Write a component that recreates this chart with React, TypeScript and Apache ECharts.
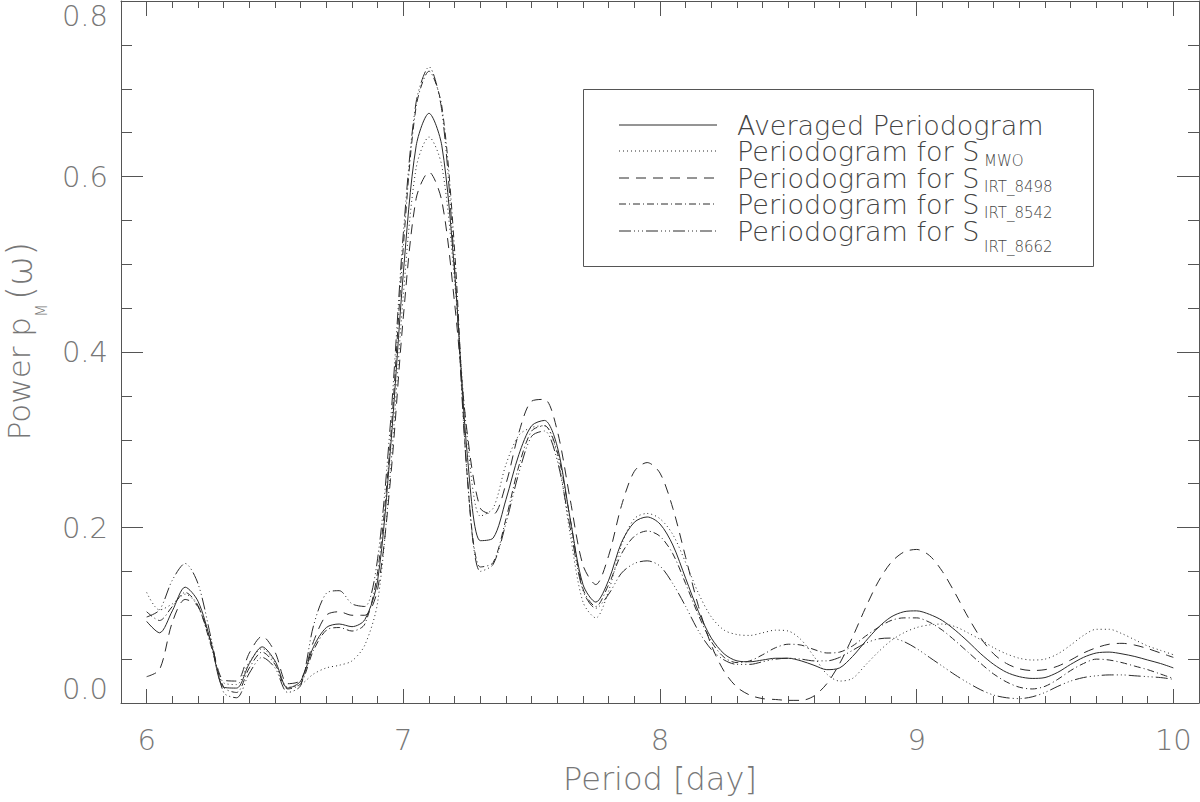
import { useEffect, useRef } from "react";
import * as echarts from "echarts";

// Period grid (days)
const PERIOD = [
  6.0, 6.05, 6.1, 6.15, 6.2, 6.25, 6.3, 6.35, 6.4, 6.45, 6.5, 6.55, 6.6, 6.65, 6.7, 6.75, 6.8, 6.85, 6.9, 6.95,
  7.0, 7.05, 7.1, 7.15, 7.2, 7.25, 7.3, 7.35, 7.4, 7.45, 7.5, 7.55, 7.6, 7.65, 7.7, 7.75, 7.8, 7.85, 7.9, 7.95,
  8.0, 8.05, 8.1, 8.15, 8.2, 8.25, 8.3, 8.35, 8.4, 8.45, 8.5, 8.55, 8.6, 8.65, 8.7, 8.75, 8.8, 8.85, 8.9, 8.95,
  9.0, 9.05, 9.1, 9.15, 9.2, 9.25, 9.3, 9.35, 9.4, 9.45, 9.5, 9.55, 9.6, 9.65, 9.7, 9.75, 9.8, 9.85, 9.9, 9.95,
  10.0,
];

const AVERAGED = [
  0.093, 0.08, 0.105, 0.132, 0.116, 0.07, 0.018, 0.017, 0.045, 0.064, 0.048, 0.017, 0.025, 0.064, 0.086, 0.09, 0.087, 0.095, 0.14, 0.29,
  0.49, 0.635, 0.672, 0.635, 0.49, 0.28, 0.185, 0.188, 0.232, 0.283, 0.316, 0.322, 0.292, 0.21, 0.135, 0.115, 0.14, 0.183, 0.206, 0.212,
  0.204, 0.18, 0.142, 0.104, 0.074, 0.056, 0.048, 0.047, 0.049, 0.051, 0.051, 0.048, 0.043, 0.038, 0.04, 0.053, 0.07, 0.086, 0.098, 0.104,
  0.105, 0.101, 0.094, 0.083, 0.07, 0.056, 0.044, 0.035, 0.03, 0.028, 0.029, 0.035, 0.044, 0.052, 0.057, 0.058, 0.056, 0.053, 0.049, 0.045,
  0.04,
];

const S_MWO = [
  0.126, 0.106, 0.113, 0.124, 0.11, 0.068, 0.023, 0.021, 0.047, 0.062, 0.046, 0.018, 0.021, 0.033, 0.04, 0.043, 0.048, 0.066, 0.115, 0.265,
  0.465, 0.61, 0.645, 0.612, 0.48, 0.3, 0.213, 0.222, 0.272, 0.305, 0.314, 0.316, 0.282, 0.192, 0.115, 0.097, 0.128, 0.18, 0.21, 0.216,
  0.21, 0.192, 0.16, 0.125, 0.098, 0.083, 0.078, 0.077, 0.08, 0.083, 0.082, 0.072, 0.053, 0.033, 0.025, 0.028, 0.043, 0.058, 0.071, 0.08,
  0.086, 0.089, 0.09, 0.087, 0.08, 0.072, 0.063, 0.056, 0.051, 0.049, 0.05, 0.056, 0.066, 0.077, 0.084, 0.084, 0.079, 0.072, 0.065, 0.06,
  0.055,
];

const S_IRT_8498 = [
  0.03, 0.038, 0.092, 0.118, 0.11, 0.07, 0.026, 0.025, 0.057, 0.076, 0.058, 0.022, 0.026, 0.07, 0.1, 0.104, 0.1, 0.1, 0.13, 0.255,
  0.44, 0.575, 0.605, 0.572, 0.455, 0.305, 0.222, 0.215, 0.25, 0.308, 0.344, 0.346, 0.31, 0.232, 0.157, 0.135, 0.168, 0.225, 0.264, 0.274,
  0.262, 0.222, 0.166, 0.11, 0.066, 0.036, 0.018, 0.009, 0.005, 0.004, 0.003, 0.003, 0.008, 0.022, 0.045, 0.075, 0.108, 0.138, 0.16, 0.172,
  0.175, 0.168, 0.15, 0.125, 0.098, 0.074, 0.056, 0.045, 0.039, 0.037, 0.038, 0.042, 0.049, 0.057, 0.063, 0.067, 0.068, 0.066, 0.062, 0.057,
  0.052,
];

const S_IRT_8542 = [
  0.104, 0.094, 0.11, 0.126, 0.111, 0.066, 0.018, 0.012, 0.04, 0.058, 0.044, 0.016, 0.022, 0.06, 0.083, 0.086, 0.082, 0.09, 0.15, 0.3,
  0.52, 0.68, 0.72, 0.68, 0.515, 0.255, 0.155, 0.16, 0.21, 0.27, 0.31, 0.316, 0.286, 0.21, 0.13, 0.11, 0.135, 0.17, 0.19, 0.196,
  0.19, 0.17, 0.136, 0.1, 0.07, 0.052, 0.046, 0.048, 0.055, 0.063, 0.067, 0.066, 0.061, 0.057, 0.058, 0.065, 0.076, 0.086, 0.094, 0.097,
  0.097, 0.092, 0.083, 0.071, 0.058, 0.045, 0.033, 0.024, 0.018, 0.016, 0.019, 0.027, 0.037, 0.045, 0.05, 0.049, 0.046, 0.042, 0.038, 0.033,
  0.028,
];

const S_IRT_8662 = [
  0.098, 0.106, 0.14, 0.159, 0.136, 0.075, 0.012, 0.006, 0.034, 0.052, 0.04, 0.012, 0.02, 0.088, 0.125, 0.128, 0.113, 0.11, 0.165, 0.32,
  0.535, 0.685, 0.725, 0.675, 0.495, 0.255, 0.15, 0.158, 0.205, 0.262, 0.304, 0.31, 0.276, 0.2, 0.128, 0.108, 0.124, 0.148, 0.159, 0.162,
  0.156, 0.136, 0.11, 0.082, 0.061, 0.049, 0.044, 0.044, 0.047, 0.05, 0.051, 0.05, 0.048, 0.048, 0.052, 0.06, 0.068, 0.073, 0.074, 0.07,
  0.062, 0.052, 0.042, 0.032, 0.023, 0.015, 0.009, 0.006, 0.005, 0.007, 0.012, 0.019, 0.025, 0.029, 0.031, 0.032, 0.032, 0.031, 0.03, 0.029,
  0.027,
];

const PERIOD_TICKS = [6, 7, 8, 9, 10];
const PERIOD_MINOR_TICKS = [
  6.0, 6.1, 6.2, 6.3, 6.4, 6.5, 6.6, 6.7, 6.8, 6.9, 7.0, 7.1, 7.2, 7.3, 7.4, 7.5, 7.6, 7.7, 7.8, 7.9,
  8.0, 8.1, 8.2, 8.3, 8.4, 8.5, 8.6, 8.7, 8.8, 8.9, 9.0, 9.1, 9.2, 9.3, 9.4, 9.5, 9.6, 9.7, 9.8, 9.9, 10.0,
];

const LEGEND_NAMES = [
  "Averaged Periodogram",
  "Periodogram for S",
  "Periodogram for S",
  "Periodogram for S",
  "Periodogram for S",
];
const LEGEND_SUBS = ["", "MWO", "IRT_8498", "IRT_8542", "IRT_8662"];

const FONT = "'DejaVu Sans', 'Liberation Sans', sans-serif";
const LIGHT = 300;
const LINE_COLOR = "#2a2a2a";
const AXIS_COLOR = "#555";
const LABEL_COLOR = "#777";
const LEGEND_TEXT = "#444";

const DASHES: any[] = ["solid", [1, 3], [10, 7], [7, 3, 1, 3], [12, 3, 1, 3, 1, 3, 1, 3]];

export default function App() {
  const ref = useRef<HTMLDivElement>(null);

  useEffect(() => {
    const chart = echarts.init(ref.current!, null, { renderer: "svg" });
    const seriesValues = [AVERAGED, S_MWO, S_IRT_8498, S_IRT_8542, S_IRT_8662];

    const baseX = {
      type: "value",
      min: 5.9,
      max: 10.1,
      splitLine: { show: false },
      axisLine: { show: false },
      axisLabel: { show: false },
    };

    const legendRows = [125, 151, 178, 204, 231];
    const subRows = [0, 161, 187, 213, 247];
    const legendLeft = 619;
    const legendRight = 717;
    const textX = 737;
    const subX = 984;

    const graphic: any[] = [
      {
        type: "rect",
        shape: { x: 583.5, y: 89.5, width: 510, height: 177 },
        style: { fill: "none", stroke: AXIS_COLOR, lineWidth: 1 },
        z: 10,
      },
    ];
    legendRows.forEach((y, i) => {
      graphic.push({
        type: "line",
        shape: { x1: legendLeft, y1: y, x2: legendRight, y2: y },
        style: {
          stroke: LINE_COLOR,
          lineWidth: 1,
          lineDash: DASHES[i] === "solid" ? null : DASHES[i],
        },
        z: 10,
      });
      graphic.push({
        type: "text",
        x: textX,
        y: y,
        z: 10,
        style: {
          text: LEGEND_NAMES[i],
          fontFamily: FONT,
          fontSize: 27,
          fontWeight: LIGHT,
          lineHeight: 25,
          fill: LEGEND_TEXT,
          verticalAlign: "middle",
          align: "left",
        },
      });
      if (LEGEND_SUBS[i]) {
        graphic.push({
          type: "text",
          x: subX,
          y: subRows[i],
          z: 10,
          style: {
            text: LEGEND_SUBS[i],
            fontFamily: FONT,
            fontSize: 15,
            fontWeight: LIGHT,
            lineHeight: 14,
            fill: LEGEND_TEXT,
            verticalAlign: "middle",
            align: "left",
          },
        });
      }
    });

    const option: any = {
      animation: false,
      backgroundColor: "#fff",
      textStyle: { fontFamily: FONT },
      grid: { left: 121, right: 1, top: 1, bottom: 99, outerBoundsMode: "none", containLabel: false },
      xAxis: [
        {
          ...baseX,
          position: "bottom",
          axisLine: { show: true, lineStyle: { color: AXIS_COLOR, width: 1 } },
          axisTick: { show: true, inside: true, length: 7, customValues: PERIOD_MINOR_TICKS, lineStyle: { color: AXIS_COLOR } },
        },
        {
          ...baseX,
          position: "bottom",
          axisTick: { show: true, inside: true, length: 14, customValues: PERIOD_TICKS, lineStyle: { color: AXIS_COLOR } },
          axisLabel: {
            show: true,
            customValues: PERIOD_TICKS,
            formatter: (v: number) => String(Math.round(v)),
            fontSize: 29,
            fontFamily: FONT,
            fontWeight: LIGHT,
            color: LABEL_COLOR,
            margin: 22,
          },
          name: "Period [day]",
          nameLocation: "middle",
          nameGap: 60,
          nameTextStyle: { fontSize: 32, fontFamily: FONT, fontWeight: LIGHT, color: LABEL_COLOR },
        },
        {
          ...baseX,
          position: "top",
          axisLine: { show: true, lineStyle: { color: AXIS_COLOR, width: 1 } },
          axisTick: { show: true, inside: true, length: 7, customValues: PERIOD_MINOR_TICKS, lineStyle: { color: AXIS_COLOR } },
        },
        {
          ...baseX,
          position: "top",
          axisTick: { show: true, inside: true, length: 15, customValues: PERIOD_TICKS, lineStyle: { color: AXIS_COLOR } },
        },
      ],
      yAxis: [
        {
          type: "value",
          position: "left",
          min: 0,
          max: 0.8,
          interval: 0.2,
          splitLine: { show: false },
          axisLine: { show: true, lineStyle: { color: AXIS_COLOR, width: 1 } },
          axisTick: { show: true, inside: true, length: 22, lineStyle: { color: AXIS_COLOR } },
          minorTick: { show: true, splitNumber: 4, length: 11, lineStyle: { color: AXIS_COLOR } },
          axisLabel: {
            formatter: (v: number) => v.toFixed(1),
            fontSize: 29,
            fontFamily: FONT,
            fontWeight: LIGHT,
            color: LABEL_COLOR,
            margin: 13,
            verticalAlignMaxLabel: "top",
            verticalAlignMinLabel: "bottom",
          },
          name: "Power p{sub|M}{par|(ω)}",
          nameLocation: "middle",
          nameGap: 72,
          nameTextStyle: {
            fontSize: 31,
            fontFamily: FONT,
            fontWeight: LIGHT,
            color: LABEL_COLOR,
            lineHeight: 60,
            padding: [0, 0, 0, 22],
            rich: {
              sub: { fontSize: 15, fontFamily: FONT, fontWeight: LIGHT, color: LABEL_COLOR, lineHeight: 14, verticalAlign: "bottom" },
              par: { fontSize: 36, fontFamily: FONT, fontWeight: LIGHT, color: LABEL_COLOR, lineHeight: 60, verticalAlign: "middle", padding: [0, 0, 0, 4] },
            },
          },
        },
        {
          type: "value",
          position: "right",
          min: 0,
          max: 0.8,
          interval: 0.2,
          splitLine: { show: false },
          axisLine: { show: true, lineStyle: { color: AXIS_COLOR, width: 1 } },
          axisTick: { show: true, inside: true, length: 22, lineStyle: { color: AXIS_COLOR } },
          minorTick: { show: true, splitNumber: 4, length: 11, lineStyle: { color: AXIS_COLOR } },
          axisLabel: { show: false },
        },
      ],
      series: seriesValues.map((vals, i) => ({
        type: "line",
        name: ["Averaged", "MWO", "IRT_8498", "IRT_8542", "IRT_8662"][i],
        xAxisIndex: 0,
        yAxisIndex: 0,
        data: PERIOD.map((p, j) => [p, vals[j]]),
        showSymbol: false,
        symbol: "none",
        smooth: 0.3,
        silent: true,
        z: i === 0 ? 5 : 3,
        lineStyle: { color: LINE_COLOR, width: 1, type: DASHES[i] },
      })),
      graphic,
    };

    chart.setOption(option);
    return () => chart.dispose();
  }, []);

  return (
    <div
      ref={ref}
      style={{ position: "fixed", left: 0, top: 0, width: 1200, height: 802, background: "#fff" }}
    />
  );
}
